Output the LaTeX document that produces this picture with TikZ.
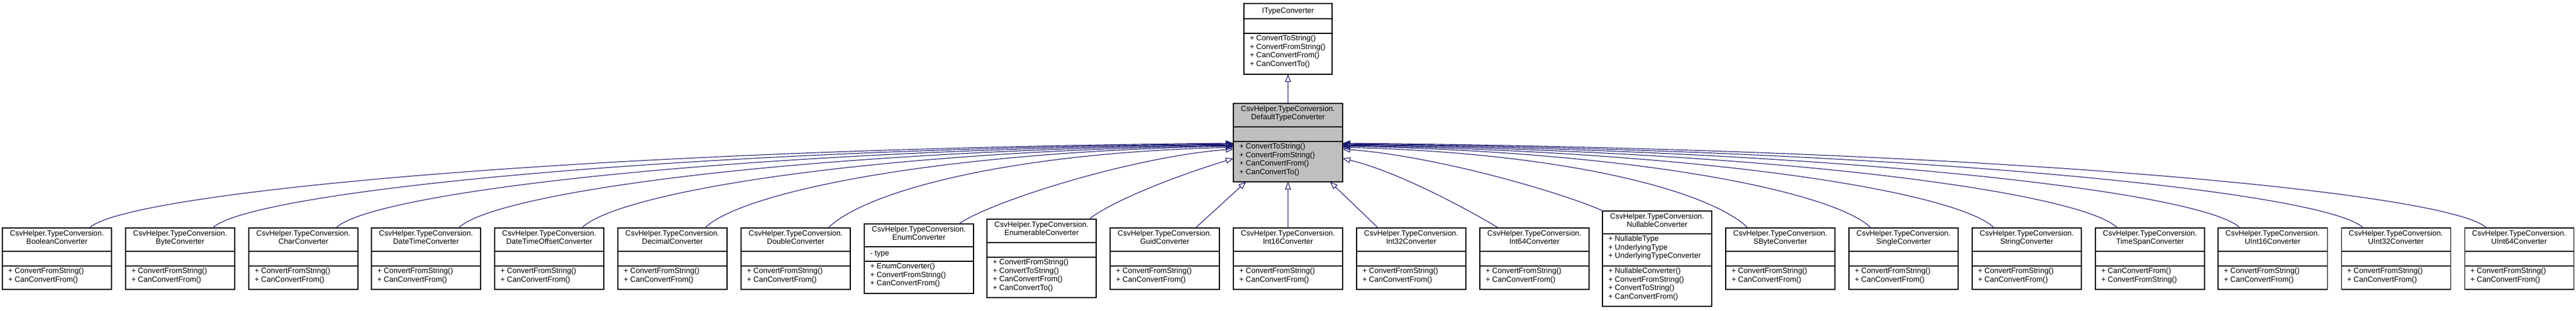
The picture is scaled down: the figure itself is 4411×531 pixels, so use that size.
\documentclass[tikz,border=0pt]{standalone}
\usepackage{fontspec}
\setmainfont{Liberation Sans}
\usetikzlibrary{arrows.meta,calc}
\definecolor{edgeblue}{HTML}{191970}
\definecolor{dtcgray}{HTML}{BFBFBF}
\tikzset{
  clsframe/.style={draw=black, line width=1.1pt, fill=white, inner sep=0pt, outer sep=0pt, anchor=north west},
  clsline/.style={draw=black, line width=1.1pt},
  hdr/.style={inner sep=0pt, outer sep=0pt, anchor=north, align=center, font=\fontsize{13}{14.5}\selectfont, execute at begin node={\rule{0pt}{12pt}}},
  mem/.style={inner sep=0pt, outer sep=0pt, anchor=north west, align=left, font=\fontsize{13}{14.5}\selectfont, execute at begin node={\rule{0pt}{12pt}}},
  inherit/.style={draw=edgeblue, line width=1.1pt, -{Triangle[open, length=13pt, width=10pt]}},
}
% #1 extra style, #2 name, #3 x, #4 w, #5 ytop, #6 header h, #7 attr h, #8 method h, #9 header text
\newcommand{\cls}[9][]{%
  \node[clsframe,#1, minimum width=#4pt, minimum height={(#6+#7+#8)*1pt}] (#2) at (#3,#5) {};
  \draw[clsline] (#3,#5+#6) -- ++(#4,0);
  \draw[clsline] (#3,#5+#6+#7) -- ++(#4,0);
  \node[hdr] (#2-h) at (#3+#4/2,#5+4) {#9};
  \coordinate (#2-a) at (#3+10,#5+#6+3.5);
  \coordinate (#2-m) at (#3+10,#5+#6+#7+3.5);
}
% standard converter box: #1 name, #2 x, #3 class name, #4 first method, #5 second method
\newcommand{\stdcls}[5]{%
  \cls{#1}{#2}{187}{390}{40}{25}{40}{CsvHelper.TypeConversion.\\#3}
  \node[mem] (#1-mt) at (#1-m) {+ #4\\+ #5};
}
\begin{document}
\begin{tikzpicture}[x=1pt,y=-1pt]
\useasboundingbox (0,0) rectangle (4411,531);

% base classes
\cls{itc}{2130}{151}{6}{26}{25}{70}{ITypeConverter}
\node[mem] (itc-mt) at (itc-m) {+ ConvertToString()\\+ ConvertFromString()\\+ CanConvertFrom()\\+ CanConvertTo()};

\cls[fill=dtcgray]{dtc}{2112}{187}{177}{40}{25}{69}{CsvHelper.TypeConversion.\\DefaultTypeConverter}
\node[mem] (dtc-mt) at (dtc-m) {+ ConvertToString()\\+ ConvertFromString()\\+ CanConvertFrom()\\+ CanConvertTo()};

% derived classes
\stdcls{bool}{4}{BooleanConverter}{ConvertFromString()}{CanConvertFrom()}
\stdcls{byte}{215}{ByteConverter}{ConvertFromString()}{CanConvertFrom()}
\stdcls{char}{426}{CharConverter}{ConvertFromString()}{CanConvertFrom()}
\stdcls{dt}{636}{DateTimeConverter}{ConvertFromString()}{CanConvertFrom()}
\stdcls{dto}{847}{DateTimeOffsetConverter}{ConvertFromString()}{CanConvertFrom()}
\stdcls{dec}{1058}{DecimalConverter}{ConvertFromString()}{CanConvertFrom()}
\stdcls{dbl}{1269}{DoubleConverter}{ConvertFromString()}{CanConvertFrom()}

\cls{enum}{1480}{187}{383}{39}{25}{55}{CsvHelper.TypeConversion.\\EnumConverter}
\node[mem] (enum-at) at (enum-a) {- type};
\node[mem] (enum-mt) at (enum-m) {+ EnumConverter()\\+ ConvertFromString()\\+ CanConvertFrom()};

\cls{enumb}{1690}{187}{375}{40}{25}{69}{CsvHelper.TypeConversion.\\EnumerableConverter}
\node[mem] (enumb-mt) at (enumb-m) {+ ConvertFromString()\\+ ConvertToString()\\+ CanConvertFrom()\\+ CanConvertTo()};

\stdcls{guid}{1901}{GuidConverter}{ConvertFromString()}{CanConvertFrom()}
\stdcls{i16}{2112}{Int16Converter}{ConvertFromString()}{CanConvertFrom()}
\stdcls{i32}{2323}{Int32Converter}{ConvertFromString()}{CanConvertFrom()}
\stdcls{i64}{2534}{Int64Converter}{ConvertFromString()}{CanConvertFrom()}

\cls{nul}{2744}{187}{361}{39}{55}{69}{CsvHelper.TypeConversion.\\NullableConverter}
\node[mem] (nul-at) at (nul-a) {+ NullableType\\+ UnderlyingType\\+ UnderlyingTypeConverter};
\node[mem] (nul-mt) at (nul-m) {+ NullableConverter()\\+ ConvertFromString()\\+ ConvertToString()\\+ CanConvertFrom()};

\stdcls{sb}{2955}{SByteConverter}{ConvertFromString()}{CanConvertFrom()}
\stdcls{sgl}{3166}{SingleConverter}{ConvertFromString()}{CanConvertFrom()}
\stdcls{str}{3377}{StringConverter}{ConvertFromString()}{CanConvertFrom()}
\stdcls{ts}{3588}{TimeSpanConverter}{CanConvertFrom()}{ConvertFromString()}
\stdcls{u16}{3798}{UInt16Converter}{ConvertFromString()}{CanConvertFrom()}
\stdcls{u32}{4009}{UInt32Converter}{ConvertFromString()}{CanConvertFrom()}
\stdcls{u64}{4220}{UInt64Converter}{ConvertFromString()}{CanConvertFrom()}

% inheritance edges
\draw[inherit] (dtc.north) -- (itc.south);

\draw[inherit] ($(bool.north west)+(149,0)$) .. controls (213,330) and (995,255) .. ([yshift=-1pt]dtc.west);
\draw[inherit] ($(byte.north west)+(149,0)$) .. controls (424,330) and (1116,256) .. ([yshift=-2pt]dtc.west);
\draw[inherit] ($(char.north west)+(149,0)$) .. controls (635,330) and (1236,257) .. ([yshift=-3pt]dtc.west);
\draw[inherit] ($(dt.north west)+(149,0)$) .. controls (845,330) and (1356,258) .. ([yshift=-4pt]dtc.west);
\draw[inherit] ($(dto.north west)+(149,0)$) .. controls (1056,330) and (1476,259) .. ([yshift=-5pt]dtc.west);
\draw[inherit] ($(dec.north west)+(149,0)$) .. controls (1267,330) and (1596,260) .. ([yshift=-6pt]dtc.west);
\draw[inherit] ($(dbl.north west)+(149,0)$) .. controls (1478,330) and (1716,262) .. ([yshift=-8pt]dtc.west);
\draw[inherit] ($(enum.north west)+(162,0)$) .. controls (1695,345) and (1940,268) .. ([yshift=-11pt]dtc.west);
\draw[inherit] ($(enumb.north west)+(175,0)$) .. controls (1892,352) and (1985,310) .. ([yshift=-27pt]dtc.west);
\draw[inherit] ($(guid.north west)+(146,0)$) -- ([xshift=-72pt]dtc.south);
\draw[inherit] (i16.north) -- (dtc.south);
\draw[inherit] ($(i32.north west)+(37,0)$) -- ([xshift=72pt]dtc.south);
\draw[inherit] ($(i64.north west)+(32,0)$) .. controls (2530,368) and (2400,295) .. ([yshift=-27pt]dtc.east);
\draw[inherit] ($(nul.north west)+(1,0)$) .. controls (2690,335) and (2470,268) .. ([yshift=-11pt]dtc.east);
\draw[inherit] ($(sb.north west)+(38,0)$) .. controls (2933,330) and (2695,262) .. ([yshift=-8pt]dtc.east);
\draw[inherit] ($(sgl.north west)+(38,0)$) .. controls (3144,330) and (2815,260) .. ([yshift=-6pt]dtc.east);
\draw[inherit] ($(str.north west)+(38,0)$) .. controls (3355,330) and (2935,259) .. ([yshift=-5pt]dtc.east);
\draw[inherit] ($(ts.north west)+(38,0)$) .. controls (3566,330) and (3055,258) .. ([yshift=-4pt]dtc.east);
\draw[inherit] ($(u16.north west)+(38,0)$) .. controls (3776,330) and (3175,257) .. ([yshift=-3pt]dtc.east);
\draw[inherit] ($(u32.north west)+(38,0)$) .. controls (3987,330) and (3295,256) .. ([yshift=-2pt]dtc.east);
\draw[inherit] ($(u64.north west)+(38,0)$) .. controls (4198,330) and (3416,255) .. ([yshift=-1pt]dtc.east);
\end{tikzpicture}
\end{document}
